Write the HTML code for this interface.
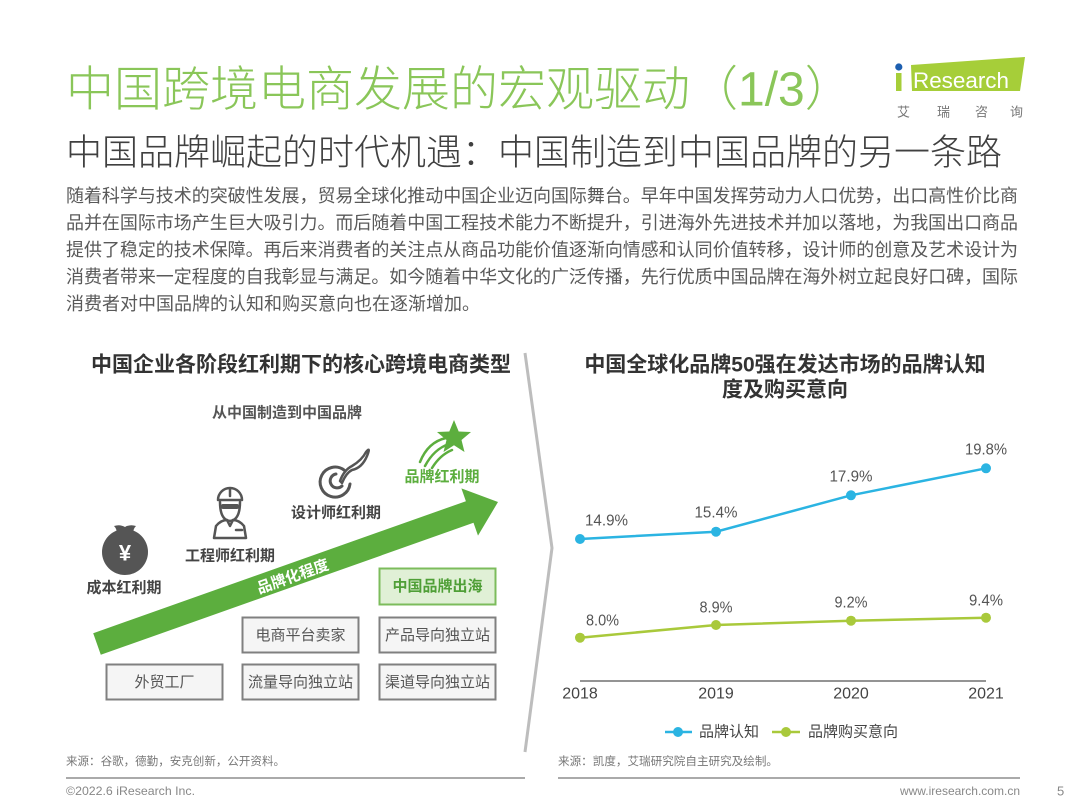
<!DOCTYPE html>
<html>
<head>
<meta charset="utf-8">
<style>
  html,body{margin:0;padding:0;background:#fff;}
  body{width:1080px;height:810px;overflow:hidden;position:relative;}
  svg{position:absolute;left:0;top:0;}
  text{font-family:"Liberation Sans","Noto Sans CJK SC",sans-serif;}
</style>
</head>
<body>
<svg width="1080" height="810" viewBox="0 0 1080 810" xmlns="http://www.w3.org/2000/svg">
  <!-- Title -->
  <text x="66" y="90" font-size="48" font-weight="300" fill="#8ac659" dominant-baseline="central">中国跨境电商发展的宏观驱动（1/3）</text>
  <text x="66" y="152" font-size="36" font-weight="300" fill="#404040" dominant-baseline="central">中国品牌崛起的时代机遇：中国制造到中国品牌的另一条路</text>

  <!-- Logo -->
  <polygon points="911,65 1025,57 1020,91 912,91" fill="#a6ce39"/>
  <rect x="896" y="73" width="5.5" height="18" fill="#a6ce39"/>
  <circle cx="898.8" cy="67" r="3.6" fill="#1d5fb0"/>
  <text x="913" y="88" font-size="22" fill="#ffffff" textLength="96" lengthAdjust="spacingAndGlyphs">Research</text>
  <text x="897" y="112" font-size="13" fill="#777" dominant-baseline="central">艾</text>
  <text x="937" y="112" font-size="13" fill="#777" dominant-baseline="central">瑞</text>
  <text x="975" y="112" font-size="13" fill="#777" dominant-baseline="central">咨</text>
  <text x="1010" y="112" font-size="13" fill="#777" dominant-baseline="central">询</text>

  <!-- Paragraph -->
  <g font-size="18" fill="#595959" dominant-baseline="central">
    <text x="66" y="196" textLength="952" lengthAdjust="spacing">随着科学与技术的突破性发展，贸易全球化推动中国企业迈向国际舞台。早年中国发挥劳动力人口优势，出口高性价比商</text>
    <text x="66" y="223" textLength="952" lengthAdjust="spacing">品并在国际市场产生巨大吸引力。而后随着中国工程技术能力不断提升，引进海外先进技术并加以落地，为我国出口商品</text>
    <text x="66" y="250" textLength="952" lengthAdjust="spacing">提供了稳定的技术保障。再后来消费者的关注点从商品功能价值逐渐向情感和认同价值转移，设计师的创意及艺术设计为</text>
    <text x="66" y="277" textLength="952" lengthAdjust="spacing">消费者带来一定程度的自我彰显与满足。如今随着中华文化的广泛传播，先行优质中国品牌在海外树立起良好口碑，国际</text>
    <text x="66" y="304">消费者对中国品牌的认知和购买意向也在逐渐增加。</text>
  </g>

  <!-- Left panel -->
  <text x="301" y="365" font-size="21" font-weight="bold" fill="#333" text-anchor="middle" dominant-baseline="central">中国企业各阶段红利期下的核心跨境电商类型</text>
  <text x="287" y="413" font-size="15" font-weight="bold" fill="#555" text-anchor="middle" dominant-baseline="central">从中国制造到中国品牌</text>

  <!-- Arrow -->
  <polygon points="93.2,633.2 465.9,501.2 461.4,488.4 498,502 478,535.6 473.5,522.8 100.8,654.8" fill="#5cae3e"/>
  <text x="0" y="0" font-size="15" font-weight="bold" fill="#ffffff" text-anchor="middle" dominant-baseline="central" transform="translate(293,577) rotate(-19.5)">品牌化程度</text>

  <!-- Money bag -->
  <g fill="#555">
    <circle cx="125" cy="552" r="23"/>
    <path d="M116,536 Q118,530 114,526 Q120,524 125,527 Q130,524 136,526 Q132,530 134,536 Z"/>
  </g>
  <text x="125" y="553" font-size="22" font-weight="bold" fill="#fff" text-anchor="middle" dominant-baseline="central">¥</text>
  <text x="124" y="588" font-size="15" font-weight="bold" fill="#444" text-anchor="middle" dominant-baseline="central">成本红利期</text>

  <!-- Engineer -->
  <g fill="none" stroke="#555" stroke-width="2.5" stroke-linejoin="round" stroke-linecap="round">
    <path d="M218,500 A12,12 0 0 1 242,500 Z" fill="#fff"/>
    <line x1="230" y1="489" x2="230" y2="496"/>
    <path d="M220,502 Q220,520 230,521 Q240,520 240,502"/>
    <path d="M214,538 L216,526 Q221,520 227,520 L230,526 L233,520 Q239,520 244,526 L246,538 Z"/>
    <line x1="236" y1="530" x2="242" y2="530"/>
  </g>
  <rect x="221" y="504" width="18" height="5" rx="2" fill="#555"/>
  <text x="230" y="556" font-size="15" font-weight="bold" fill="#444" text-anchor="middle" dominant-baseline="central">工程师红利期</text>

  <!-- Designer -->
  <g fill="none" stroke="#555" stroke-width="3" stroke-linecap="round">
    <path d="M344,470 A15,15 0 1 0 350,484"/>
    <path d="M336,474 A7,7 0 1 0 342,486"/>
  </g>
  <path d="M340,481 Q344,470 352,466 Q362,460 366,452 Q371,446 367,456 Q362,468 352,470 Q346,473 342,483 Z" fill="#fff" stroke="#555" stroke-width="2.5" stroke-linejoin="round"/>
  <text x="336" y="513" font-size="15" font-weight="bold" fill="#444" text-anchor="middle" dominant-baseline="central">设计师红利期</text>

  <!-- Star -->
  <polygon points="454,420 458.7,431.5 471,432 461.5,440 464.5,452 454,445.2 443.5,452 446.5,440 437,432 449.3,431.5" fill="#5cae3e"/>
  <g fill="none" stroke="#5cae3e" stroke-width="2.5" stroke-linecap="round">
    <path d="M420,462 Q428,442 446,438"/>
    <path d="M425,466 Q434,449 449,444"/>
    <path d="M432,468 Q440,455 452,450"/>
  </g>
  <text x="442" y="477" font-size="15" font-weight="bold" fill="#5cae3e" text-anchor="middle" dominant-baseline="central">品牌红利期</text>

  <!-- Boxes -->
  <rect x="379.5" y="568.5" width="116" height="36" fill="#e0f0d6" stroke="#7cbc5c" stroke-width="2"/>
  <text x="437.5" y="586.5" font-size="15" font-weight="bold" fill="#4f9f37" text-anchor="middle" dominant-baseline="central">中国品牌出海</text>

  <g fill="#f5f5f5" stroke="#808080" stroke-width="2">
    <rect x="242.5" y="617.5" width="116" height="35"/>
    <rect x="379.5" y="617.5" width="116" height="35"/>
    <rect x="106.5" y="664.5" width="116" height="35"/>
    <rect x="242.5" y="664.5" width="116" height="35"/>
    <rect x="379.5" y="664.5" width="116" height="35"/>
  </g>
  <g font-size="15" fill="#555" text-anchor="middle" dominant-baseline="central">
    <text x="300.5" y="635.5">电商平台卖家</text>
    <text x="437.5" y="635.5">产品导向独立站</text>
    <text x="164.5" y="682.5">外贸工厂</text>
    <text x="300.5" y="682.5">流量导向独立站</text>
    <text x="437.5" y="682.5">渠道导向独立站</text>
  </g>

  <!-- Separator chevron -->
  <polyline points="525,353 552,548 525,752" fill="none" stroke="#bdbdbd" stroke-width="3"/>

  <!-- Right panel -->
  <text x="785" y="365" font-size="21" font-weight="bold" fill="#333" text-anchor="middle" dominant-baseline="central">中国全球化品牌50强在发达市场的品牌认知</text>
  <text x="785" y="390" font-size="21" font-weight="bold" fill="#333" text-anchor="middle" dominant-baseline="central">度及购买意向</text>

  <!-- Axis -->
  <line x1="580" y1="681" x2="986" y2="681" stroke="#555" stroke-width="1.2"/>
  <g font-size="16" fill="#444" text-anchor="middle" dominant-baseline="central">
    <text x="580" y="694">2018</text>
    <text x="716" y="694">2019</text>
    <text x="851" y="694">2020</text>
    <text x="986" y="694">2021</text>
  </g>

  <!-- Series -->
  <polyline points="580,539 716,531.7 851,495.3 986,468.3" fill="none" stroke="#2bb4e2" stroke-width="2.5"/>
  <polyline points="580,637.7 716,625 851,620.7 986,617.7" fill="none" stroke="#a9c93b" stroke-width="2.5"/>
  <g fill="#2bb4e2">
    <circle cx="580" cy="539" r="5"/>
    <circle cx="716" cy="531.7" r="5"/>
    <circle cx="851" cy="495.3" r="5"/>
    <circle cx="986" cy="468.3" r="5"/>
  </g>
  <g fill="#a9c93b">
    <circle cx="580" cy="637.7" r="5"/>
    <circle cx="716" cy="625" r="5"/>
    <circle cx="851" cy="620.7" r="5"/>
    <circle cx="986" cy="617.7" r="5"/>
  </g>
  <g font-size="16" fill="#555" dominant-baseline="central">
    <text x="585" y="521" textLength="43" lengthAdjust="spacingAndGlyphs">14.9%</text>
    <text x="694.5" y="513" textLength="43" lengthAdjust="spacingAndGlyphs">15.4%</text>
    <text x="829.5" y="477" textLength="43" lengthAdjust="spacingAndGlyphs">17.9%</text>
    <text x="965" y="450" textLength="42" lengthAdjust="spacingAndGlyphs">19.8%</text>
    <text x="586" y="621" textLength="33" lengthAdjust="spacingAndGlyphs">8.0%</text>
    <text x="699.5" y="608" textLength="33" lengthAdjust="spacingAndGlyphs">8.9%</text>
    <text x="834.5" y="603" textLength="33" lengthAdjust="spacingAndGlyphs">9.2%</text>
    <text x="969" y="601" textLength="34" lengthAdjust="spacingAndGlyphs">9.4%</text>
  </g>

  <!-- Legend -->
  <line x1="665" y1="732" x2="692" y2="732" stroke="#2bb4e2" stroke-width="2.5"/>
  <circle cx="678" cy="732" r="5" fill="#2bb4e2"/>
  <text x="699" y="732" font-size="15" fill="#444" dominant-baseline="central">品牌认知</text>
  <line x1="772" y1="732" x2="800" y2="732" stroke="#a9c93b" stroke-width="2.5"/>
  <circle cx="786" cy="732" r="5" fill="#a9c93b"/>
  <text x="808" y="732" font-size="15" fill="#444" dominant-baseline="central">品牌购买意向</text>

  <!-- Footer -->
  <text x="66" y="762" font-size="11.5" fill="#777" dominant-baseline="central" textLength="219" lengthAdjust="spacingAndGlyphs">来源：谷歌，德勤，安克创新，公开资料。</text>
  <text x="558" y="762" font-size="11.5" fill="#777" dominant-baseline="central" textLength="220" lengthAdjust="spacingAndGlyphs">来源：凯度，艾瑞研究院自主研究及绘制。</text>
  <line x1="66" y1="778" x2="525" y2="778" stroke="#777" stroke-width="1.2"/>
  <line x1="558" y1="778" x2="1020" y2="778" stroke="#777" stroke-width="1.2"/>
  <text x="66" y="791" font-size="12" fill="#888" dominant-baseline="central" textLength="129" lengthAdjust="spacingAndGlyphs">©2022.6 iResearch Inc.</text>
  <text x="1020" y="791" font-size="12" fill="#888" text-anchor="end" dominant-baseline="central">www.iresearch.com.cn</text>
  <text x="1057" y="791" font-size="13" fill="#888" dominant-baseline="central">5</text>
</svg>
</body>
</html>
